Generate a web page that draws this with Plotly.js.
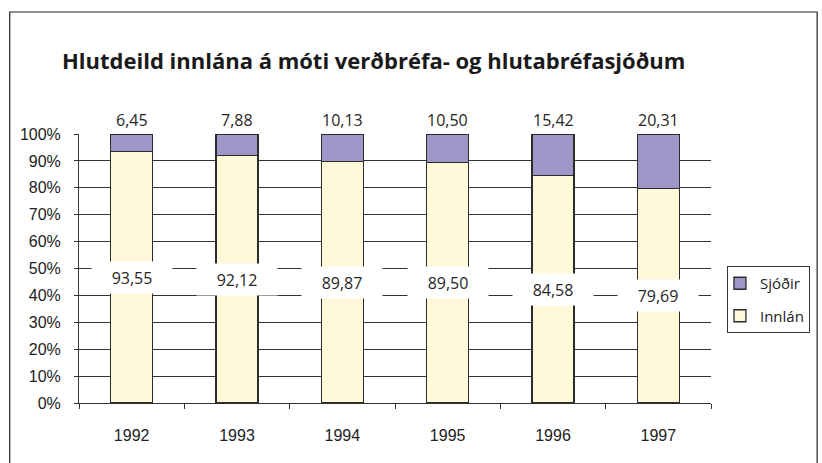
<!DOCTYPE html>
<html>
<head>
<meta charset="utf-8">
<script src="https://cdn.plot.ly/plotly-3.0.1.min.js"></script>
<style>html,body{margin:0;padding:0;background:#fff;}#chart{width:822px;height:463px;}</style>
</head>
<body>
<div id="chart"></div>
<script>
const years = ['1992', '1993', '1994', '1995', '1996', '1997'];
const innlan = [93.55, 92.12, 89.87, 89.50, 84.58, 79.69];
const sjodir = [6.45, 7.88, 10.13, 10.50, 15.42, 20.31];
const yTickVals = [0, 10, 20, 30, 40, 50, 60, 70, 80, 90, 100];
const yTickText = yTickVals.map(v => v + '%');
const titleText = 'Hlutdeild innlána á móti verðbréfa- og hlutabréfasjóðum';

const fmt = v => v.toFixed(2).replace('.', ',');
const labelFont = {family: 'Open Sans, Noto Sans, sans-serif', size: 16, color: '#262626'};
const tickFont = {family: 'Liberation Sans, Arial, sans-serif', size: 16, color: '#222'};

const traces = [
  {type: 'bar', name: 'Innlán', x: years, y: innlan, legendgroup: 'a', legendrank: 2,
   marker: {color: '#fff9d9', line: {color: '#2b2b2b', width: 1.3}}, hoverinfo: 'skip'},
  {type: 'bar', name: 'Sjóðir', x: years, y: sjodir, legendgroup: 'b', legendrank: 1,
   marker: {color: '#9d97c8', line: {color: '#2b2b2b', width: 1.3}}, hoverinfo: 'skip'}
];

const annotations = [];
years.forEach((yr, i) => {
  annotations.push({x: i, y: innlan[i] / 2, xref: 'x', yref: 'y', text: fmt(innlan[i]),
    showarrow: false, font: labelFont, bgcolor: '#ffffff', width: 76, height: 27, borderpad: 2,
    xanchor: 'center', yanchor: 'middle'});
  annotations.push({x: i, y: innlan[i] + sjodir[i], xref: 'x', yref: 'y', text: fmt(sjodir[i]),
    showarrow: false, font: labelFont, xanchor: 'center', yanchor: 'middle', yshift: 14});
});

const layout = {
  width: 822, height: 463,
  margin: {l: 79, r: 109, t: 134, b: 60, pad: 0},
  paper_bgcolor: '#ffffff', plot_bgcolor: '#ffffff',
  barmode: 'stack', bargap: 0.6,
  title: {text: '<b>' + titleText + '</b>', x: 62 / 822, xanchor: 'left', xref: 'container',
    y: 1 - 61 / 463, yanchor: 'middle', yref: 'container',
    font: {family: 'Open Sans, sans-serif', size: 22, color: '#1a1a1a'}},
  xaxis: {type: 'category', range: [-0.5, 5.5], autorange: false, showline: true, linecolor: '#333', linewidth: 1,
    ticks: 'outside', tickson: 'boundaries', ticklen: 5, tickcolor: '#333', tickangle: 0,
    tickfont: tickFont, ticklabelstandoff: 18, showgrid: false, zeroline: false, fixedrange: true},
  yaxis: {range: [0, 100], autorange: false, tickvals: yTickVals, ticktext: yTickText, showline: true,
    linecolor: '#333', linewidth: 1, ticks: 'outside', ticklen: 4, tickcolor: '#333',
    tickfont: tickFont, ticklabelstandoff: 10, showgrid: true, gridcolor: '#333', gridwidth: 1,
    zeroline: false, fixedrange: true},
  legend: {x: (729 - 79) / 634, xanchor: 'left', y: (403 - 266) / 269, yanchor: 'top',
    bordercolor: '#333', borderwidth: 1, bgcolor: '#fff', traceorder: 'grouped', indentation: -8,
    tracegroupgap: 10, font: {family: 'Open Sans, Noto Sans, sans-serif', size: 15, color: '#222'}},
  annotations: annotations,
  shapes: [{type: 'rect', xref: 'paper', yref: 'paper',
    x0: (9.5 - 79) / 634, x1: (819.5 - 79) / 634, y0: (403 - 480) / 269, y1: (403 - 12) / 269,
    line: {color: '#222', width: 1.2}, fillcolor: 'rgba(0,0,0,0)', layer: 'below'}],
  showlegend: true
};

Plotly.newPlot('chart', traces, layout, {displayModeBar: false, staticPlot: true});
</script>
</body>
</html>
